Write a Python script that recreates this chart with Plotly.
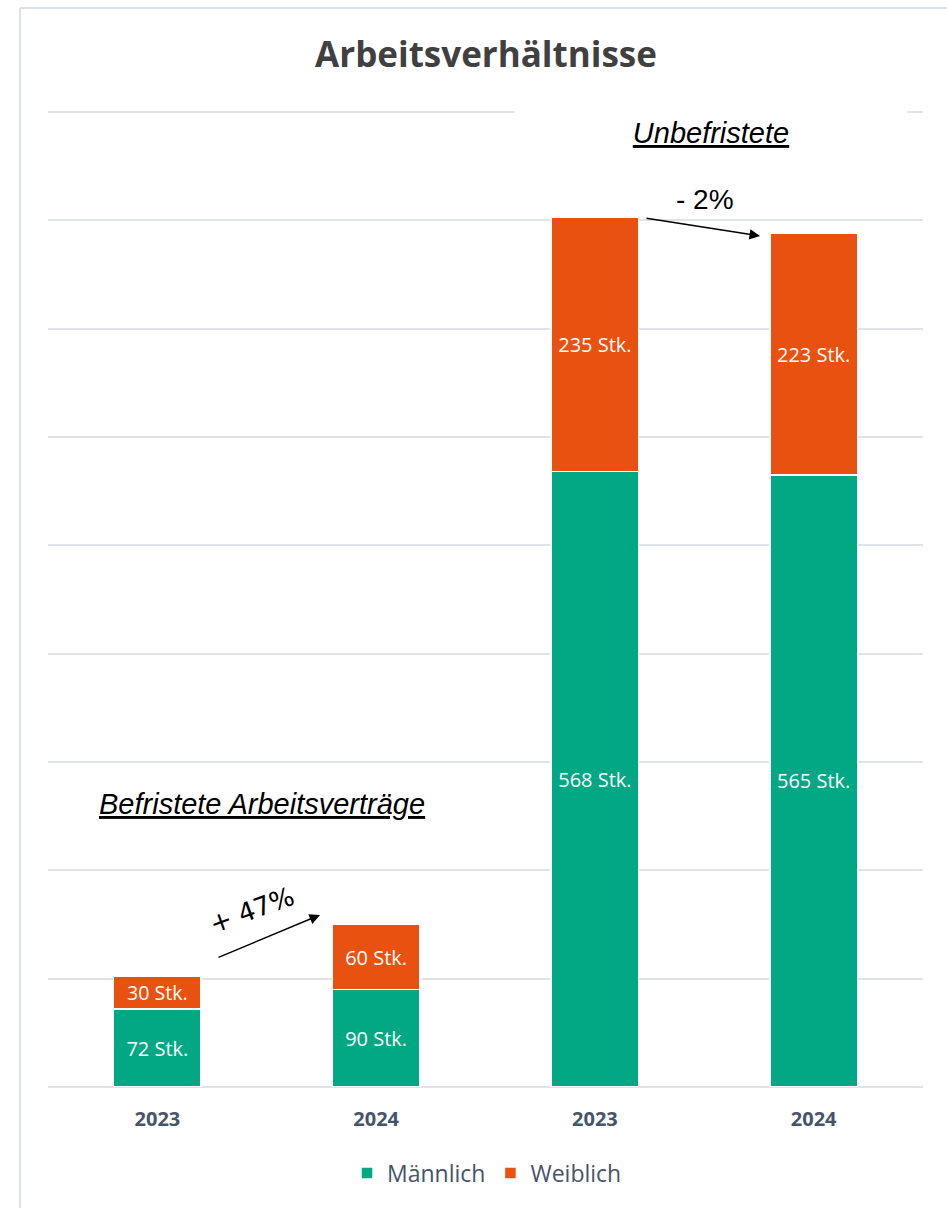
import plotly.graph_objects as go

# Data
x_pos = [0, 1, 2, 3]
tick_labels = ["2023", "2024", "2023", "2024"]
maennlich = [72, 90, 568, 565]
weiblich = [30, 60, 235, 223]

GREEN = "#02A884"
ORANGE = "#E8510F"
GRID = "#DFE3E9"
TICK = "#44546A"

W, H = 947, 1208
ML, MR, MT, MB = 48, 24, 111, 121
plot_w = W - ML - MR
plot_h = H - MT - MB
YMAX = 901


def px_x(p):
    # pixel -> data x
    return (p - ML) / (plot_w / 4) - 0.5


def px_y(p):
    return (H - MB - p) / (plot_h / YMAX)


def paper_x(p):
    return (p - ML) / plot_w


def paper_y(p):
    return (H - MB - p) / plot_h


fig = go.Figure()
fig.add_trace(go.Bar(
    x=x_pos, y=maennlich, name="Männlich",
    marker=dict(color=GREEN, line=dict(color="white", width=1.5)),
    texttemplate="%{y} Stk.", textposition="inside", insidetextanchor="middle",
    textfont=dict(color="white", size=20, family="Open Sans"),
    width=0.4,
))
fig.add_trace(go.Bar(
    x=x_pos, y=weiblich, name="Weiblich",
    marker=dict(color=ORANGE, line=dict(color="white", width=1.5)),
    texttemplate="%{y} Stk.", textposition="inside", insidetextanchor="middle",
    textfont=dict(color="white", size=20, family="Open Sans"),
    width=0.4,
))

fig.update_layout(
    width=W, height=H,
    barmode="stack",
    margin=dict(l=ML, r=MR, t=MT, b=MB),
    paper_bgcolor="white", plot_bgcolor="white",
    title=dict(text="<b>Arbeitsverhältnisse</b>", x=486 / W, xanchor="center",
               y=1 - 55 / H, yanchor="middle",
               font=dict(size=35, color="#404040", family="Open Sans")),
    xaxis=dict(tickmode="array", tickvals=x_pos,
               ticktext=["<b>%s</b>" % t for t in tick_labels],
               range=[-0.5, 3.5], showgrid=False, zeroline=False,
               showline=False, ticks="", ticklabelstandoff=18,
               tickfont=dict(size=20, color=TICK, family="Open Sans")),
    yaxis=dict(range=[0, YMAX], tick0=0, dtick=100, showgrid=True, gridcolor=GRID,
               gridwidth=2, showticklabels=False, zeroline=True,
               zerolinecolor=GRID, zerolinewidth=2, ticks=""),
    legend=dict(orientation="h", x=paper_x(487), xanchor="center",
                y=paper_y(1173), yanchor="middle",
                font=dict(size=23, color=TICK, family="Open Sans"),
                itemwidth=30, traceorder="normal"),
    showlegend=True,
    bargap=0.6,
)

annotations = [
    dict(text="<i><u>Unbefristete</u></i>", x=paper_x(711), y=paper_y(133),
         xref="paper", yref="paper", showarrow=False,
         font=dict(size=29, color="black", family="Liberation Sans"),
         bgcolor="white", width=390, height=48, xanchor="center", yanchor="middle"),
    dict(text="<i><u>Befristete Arbeitsverträge</u></i>", x=paper_x(262), y=paper_y(804),
         xref="paper", yref="paper", showarrow=False,
         font=dict(size=29, color="black", family="Liberation Sans"),
         xanchor="center", yanchor="middle"),
    dict(text="- 2%", x=paper_x(705), y=paper_y(200),
         xref="paper", yref="paper", showarrow=False,
         font=dict(size=28, color="black", family="Liberation Sans"),
         xanchor="center", yanchor="middle"),
    dict(text="+ 47%", x=paper_x(252), y=paper_y(910),
         xref="paper", yref="paper", showarrow=False, textangle=-20,
         font=dict(size=26, color="black", family="DejaVu Sans"),
         xanchor="center", yanchor="middle"),
    dict(x=px_x(760), y=px_y(236), ax=px_x(645), ay=px_y(218),
         xref="x", yref="y", axref="x", ayref="y", text="", showarrow=True,
         arrowhead=2, arrowsize=1.4, arrowwidth=1.5, arrowcolor="black"),
    dict(x=px_x(320), y=px_y(915), ax=px_x(217), ay=px_y(958),
         xref="x", yref="y", axref="x", ayref="y", text="", showarrow=True,
         arrowhead=2, arrowsize=1.4, arrowwidth=1.5, arrowcolor="black"),
]
fig.update_layout(annotations=annotations)

# chart frame (left and top border)
fig.add_shape(type="line", xref="paper", yref="paper",
              x0=paper_x(20), x1=paper_x(20), y0=paper_y(8), y1=paper_y(1210),
              line=dict(color="#DCE1E8", width=2))
fig.add_shape(type="line", xref="paper", yref="paper",
              x0=paper_x(20), x1=paper_x(948), y0=paper_y(8), y1=paper_y(8),
              line=dict(color="#DCE1E8", width=2))

fig.write_html("out.html")
